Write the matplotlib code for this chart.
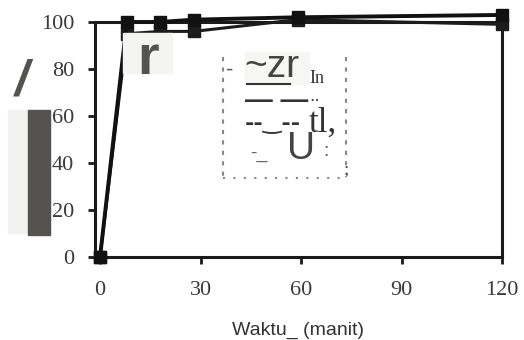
import numpy as np
import matplotlib
matplotlib.use("Agg")
import matplotlib.pyplot as plt
from matplotlib.patches import Rectangle
from matplotlib.lines import Line2D

# data
waktu = [0, 8, 18, 28, 59, 120]
siri_a = [0, 100, 100, 101, 102, 103]
siri_b = [0, 95, 96, 96, 101, 99]

xticks = [0, 30, 60, 90, 120]
yticks = [0, 20, 40, 60, 80, 100]

W, H = 524, 340


def px(x, y):
    return x / W, 1 - y / H


def hline(x0, x1, y, **kw):
    fig.add_artist(Line2D([x0 / W, x1 / W], [1 - y / H, 1 - y / H], **kw))


def vline(x, y0, y1, **kw):
    fig.add_artist(Line2D([x / W, x / W], [1 - y0 / H, 1 - y1 / H], **kw))


fig = plt.figure(figsize=(W / 100, H / 100), dpi=100)
fig.patch.set_facecolor("white")

ax = fig.add_axes([95 / W, 1 - 257 / H, (502 - 95) / W, (257 - 22) / H])
ax.plot(waktu, siri_b, color="#1c1c1c", lw=2.2, marker="s", ms=8, clip_on=False, zorder=3)
ax.plot(waktu, siri_a, color="#111111", lw=2.8, marker="s", ms=9, clip_on=False, zorder=4)

ax.set_xlim(-1.5, 120)
ax.set_ylim(0, 100)
ax.set_xticks(xticks)
ax.set_yticks(yticks)
for s in ax.spines.values():
    s.set_linewidth(2.2)
    s.set_color("#1a1a1a")
ax.tick_params(axis="both", direction="out", length=5, width=2, color="#1a1a1a",
               labelcolor="#3a3a3a")
ax.tick_params(axis="x", pad=12)
ax.tick_params(axis="y", pad=10)
for lab in ax.get_xticklabels() + ax.get_yticklabels():
    lab.set_fontfamily("Liberation Serif")
    lab.set_fontsize(16)

ax.set_xlabel("Waktu_ (manit)", family="Liberation Sans", fontsize=14,
              color="#333333", labelpad=16)

# scan artefacts around the y axis
fig.patches.append(Rectangle(px(8, 233), 42 / W, 123 / H, transform=fig.transFigure,
                             color="#f2f2f0", zorder=1))
fig.patches.append(Rectangle(px(28, 235), 22 / W, 125 / H, transform=fig.transFigure,
                             color="#555350", zorder=2))
fig.text(*px(22, 82), "/", family="Liberation Sans", fontsize=36, weight="bold",
         style="italic", color="#555350", ha="center", va="center")
fig.patches.append(Rectangle(px(123, 73), 49 / W, 40 / H, transform=fig.transFigure,
                             color="#f4f4f2", zorder=5))
fig.text(*px(148, 74), "r", family="Liberation Sans", fontsize=40, weight="bold",
         color="#555350", ha="center", va="baseline", zorder=6)

# legend box (garbled in the scan)
vline(223, 57, 178, color="#888888", lw=1.5, ls=(0, (2, 3)))
vline(346, 57, 170, color="#888888", lw=1.5, ls=(0, (2, 3)))
hline(223, 345, 178, color="#888888", lw=1.5, ls=(0, (1, 4)))
fig.patches.append(Rectangle(px(245, 84), 64 / W, 32 / H, transform=fig.transFigure,
                             color="#f6f6f4", zorder=1))
fig.text(*px(226, 76), "-", family="Liberation Sans", fontsize=16, color="#555555",
         va="baseline")
fig.text(*px(244, 77), "~zr", family="Liberation Sans", fontsize=28, color="#444444",
         va="baseline")
fig.text(*px(309, 83), "In", family="Liberation Serif", fontsize=13, color="#333333",
         va="baseline")
hline(247, 290, 84, color="#333333", lw=1.5)
fig.text(*px(245, 108), "\u2014 \u2014", family="Liberation Sans", fontsize=20,
         color="#333333", va="baseline", weight="bold")
fig.text(*px(309, 101), "..", family="Liberation Sans", fontsize=14, color="#444444",
         va="baseline")
fig.text(*px(245, 130), "--\u203f--", family="DejaVu Sans", fontsize=16,
         color="#333333", va="baseline", weight="bold")
fig.text(*px(309, 132), "tl,", family="Liberation Serif", fontsize=25, color="#333333",
         va="baseline")
fig.text(*px(250, 158), "-_", family="Liberation Sans", fontsize=14, color="#666666",
         va="baseline")
fig.text(*px(287, 159), "U", family="Liberation Sans", fontsize=28, color="#444444",
         va="baseline")
fig.text(*px(323, 156), ":", family="Liberation Sans", fontsize=14, color="#555555",
         va="baseline")
fig.text(*px(343, 174), ";", family="Liberation Serif", fontsize=14, color="#444444",
         va="baseline")

fig.savefig("out.png", dpi=100, facecolor="white")
